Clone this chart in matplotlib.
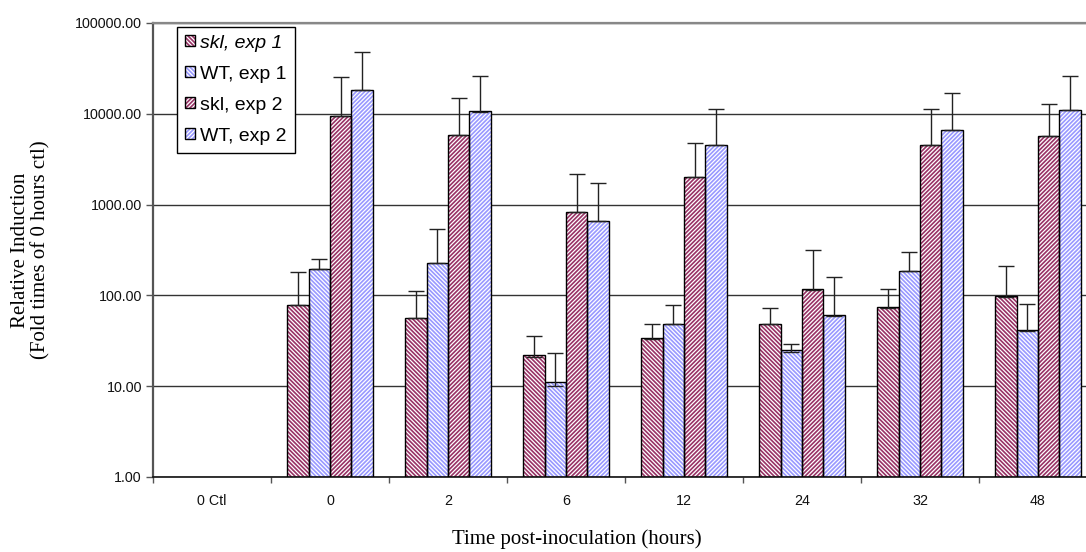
import numpy as np
import matplotlib
matplotlib.use("Agg")
import matplotlib.pyplot as plt
import matplotlib.patches as mpatches
from matplotlib.legend_handler import HandlerTuple
from matplotlib.ticker import FixedLocator, FuncFormatter, NullLocator

# ---- data -------------------------------------------------------------
categories = ["0 Ctl", "0", "2", "6", "12", "24", "32", "48"]
series_labels = ["skl, exp 1", "WT, exp 1", "skl, exp 2", "WT, exp 2"]

skl_exp1 = [np.nan, 78, 56, 21, 33, 48, 73, 97]
wt_exp1 = [np.nan, 194, 229, 10, 48, 24, 185, 41]
skl_exp2 = [np.nan, 9500, 5880, 824, 2030, 116, 4530, 5650]
wt_exp2 = [np.nan, 18300, 10600, 661, 4560, 60, 6580, 11000]

# upper error (added on top of each bar)
skl_exp1_err = [np.nan, 105, 57, 15, 15, 25, 44, 113]
wt_exp1_err = [np.nan, 60, 312, 13, 30, 5, 114, 39]
skl_exp2_err = [np.nan, 16200, 9120, 1346, 2770, 199, 6870, 7250]
wt_exp2_err = [np.nan, 29200, 15300, 1069, 6690, 100, 10220, 15400]

y_ticks = [1, 10, 100, 1000, 10000, 100000]

# ---- style ------------------------------------------------------------
W, H = 1086, 552
plt.rcParams["hatch.linewidth"] = 0.9
colors = ["#993366", "#9999ff", "#993366", "#9999ff"]
hatches = ["\\" * 8, "\\" * 8, "/" * 8, "/" * 8]
values = [skl_exp1, wt_exp1, skl_exp2, wt_exp2]
errors = [skl_exp1_err, wt_exp1_err, skl_exp2_err, wt_exp2_err]

fig = plt.figure(figsize=(W / 100, H / 100), dpi=100)
left, right, top, bottom = 153, 1097, 23, 477
ax = fig.add_axes([left / W, (H - bottom) / H, (right - left) / W, (bottom - top) / H])

x = np.arange(len(categories))
bar_w = 0.182
offsets = (np.arange(4) - 1.5) * bar_w

handles = []
for i in range(4):
    v = np.array(values[i], dtype=float)
    e = np.array(errors[i], dtype=float)
    pos = x + offsets[i]
    ax.bar(pos, v, bar_w, bottom=1, color=colors[i], edgecolor="white",
           hatch=hatches[i], linewidth=0, zorder=2)
    ax.bar(pos, v, bar_w, bottom=1, fill=False, edgecolor="black",
           linewidth=1.0, zorder=3)
    ax.errorbar(pos, v, yerr=[np.zeros_like(e), e], fmt="none",
                ecolor="#222222", elinewidth=1.0, capsize=5.5, capthick=1.0,
                zorder=4)
    fill = mpatches.Patch(facecolor=colors[i], edgecolor="white",
                          hatch=hatches[i], linewidth=0)
    outline = mpatches.Patch(fill=False, edgecolor="black", linewidth=1.0)
    handles.append((fill, outline))

ax.set_yscale("log")
ax.set_ylim(1, 100000)
ax.set_xlim(-0.5, len(categories) - 0.5)

ax.yaxis.set_major_locator(FixedLocator(y_ticks))
ax.yaxis.set_minor_locator(NullLocator())
ax.yaxis.set_major_formatter(FuncFormatter(lambda v, p: f"{v:.2f}"))
ax.grid(axis="y", which="major", color="#333333", linewidth=1.0, zorder=0)
ax.set_axisbelow(True)

ax.set_xticks(x)
ax.set_xticklabels(categories)
ax.set_xticks(np.arange(len(categories) + 1) - 0.5, minor=True)
ax.tick_params(axis="x", which="major", length=0, pad=12,
               labelsize=10.3, labelcolor="#111111")
ax.tick_params(axis="x", which="minor", length=4, width=1, color="#555555",
               direction="out")
ax.tick_params(axis="y", which="major", length=5, width=1, color="#555555",
               pad=3, labelsize=10.3, labelcolor="#111111")

for lab in ax.get_xticklabels() + ax.get_yticklabels():
    lab.set_family("Liberation Sans")

ax.spines["right"].set_visible(False)
ax.spines["top"].set_color("#888888")
ax.spines["top"].set_linewidth(1.6)
ax.spines["left"].set_color("#555555")
ax.spines["left"].set_linewidth(1.6)
ax.spines["bottom"].set_color("#111111")
ax.spines["bottom"].set_linewidth(1.2)

ax.set_xlabel("Time post-inoculation (hours)", family="Liberation Serif",
              fontsize=15)
ax.xaxis.set_label_coords((577 - left) / (right - left), (bottom - 539) / (bottom - top))
ax.xaxis.label.set_verticalalignment("center")

ax.set_ylabel("Relative Induction\n(Fold times of 0 hours ctl)",
              family="Liberation Serif", fontsize=15, linespacing=1.05)
ax.yaxis.set_label_coords((31 - left) / (right - left), 0.5)
ax.yaxis.label.set_verticalalignment("center")

leg = ax.legend(handles, series_labels, handler_map={tuple: HandlerTuple(ndivide=1)},
                loc="upper left", bbox_to_anchor=((177 - left) / (right - left), 1 - (27 - top) / (bottom - top)),
                borderaxespad=0, frameon=True, fancybox=False, edgecolor="black",
                framealpha=1, prop={"family": "Liberation Sans", "size": 14},
                handlelength=0.5, handleheight=0.5, handletextpad=0.3,
                labelspacing=0.72, borderpad=0.4)
leg.get_frame().set_linewidth(1.0)
leg.get_texts()[0].set_style("italic")

fig.savefig("out.png", dpi=100)
